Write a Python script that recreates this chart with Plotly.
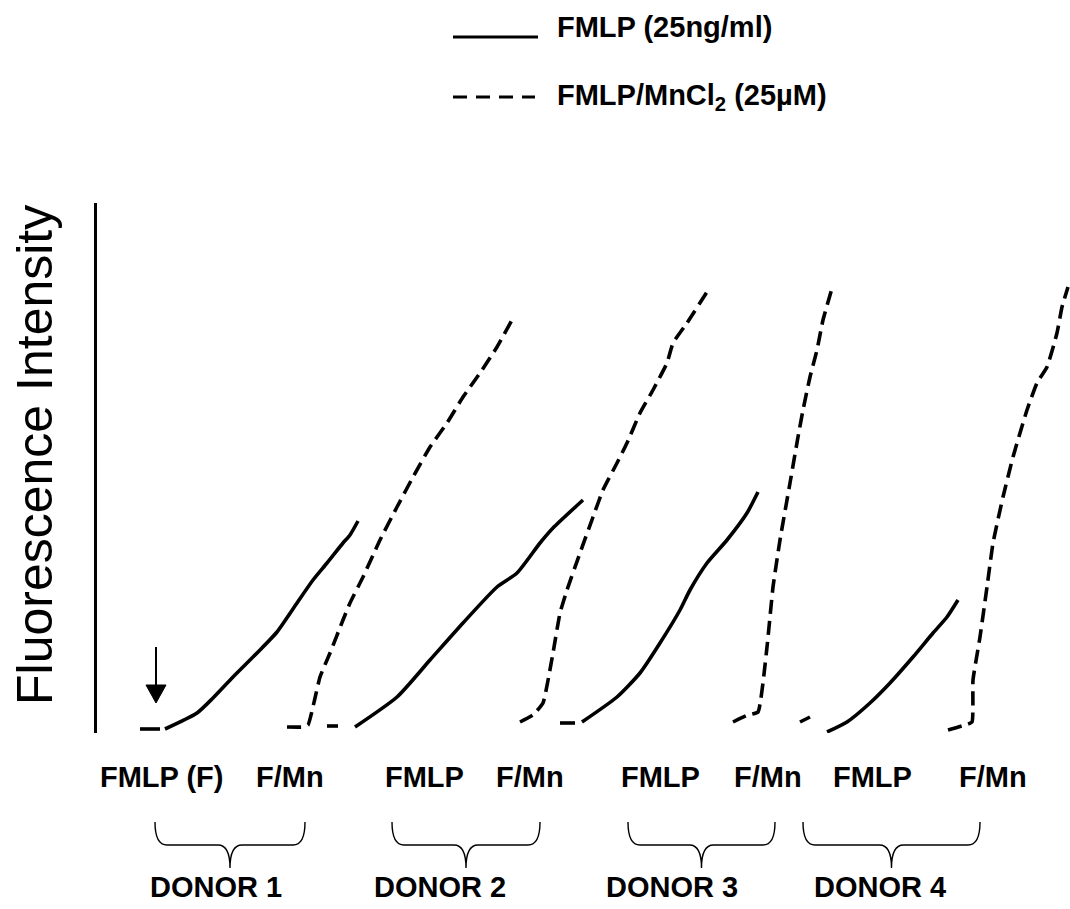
import plotly.graph_objects as go

# Time axis (s) and fluorescence (a.u.) readings for each trace.
# FMLP traces: a short pre-stimulus baseline, then the response after addition.
d1_fmlp_base_t = [43, 63]
d1_fmlp_base_f = [4, 4]
d1_fmlp_t = [68, 100, 116, 136, 160, 180, 200, 216, 230, 246, 253, 261]
d1_fmlp_f = [4, 20, 35, 56, 80, 101, 130, 153, 170, 190, 198, 212]

d1_mn_t = [190, 206, 211, 223, 233, 246, 253, 266, 283, 300, 316, 333, 350, 366, 383, 400, 415]
d1_mn_f = [6, 6, 8, 56, 80, 113, 130, 156, 193, 226, 256, 286, 310, 336, 360, 386, 413]

d2_fmlp_base_t = [230, 241]
d2_fmlp_base_f = [7, 7]
d2_fmlp_t = [258, 300, 333, 366, 400, 420, 443, 456, 486]
d2_fmlp_f = [6, 36, 73, 110, 146, 160, 190, 205, 233]

d2_mn_t = [423, 436, 446, 456, 463, 470, 483, 496, 506, 520, 530, 543, 556, 570, 576, 590, 610]
d2_mn_f = [11, 18, 30, 80, 120, 143, 180, 216, 243, 270, 290, 320, 343, 370, 390, 410, 441]

d3_fmlp_base_t = [463, 478]
d3_fmlp_base_f = [10, 10]
d3_fmlp_t = [485, 520, 543, 563, 583, 593, 610, 630, 650, 661]
d3_fmlp_f = [11, 36, 60, 90, 123, 143, 170, 193, 220, 241]

d3_mn_t = [636, 651, 661, 670, 676, 683, 693, 701, 706, 713, 720, 726, 736]
d3_mn_f = [11, 18, 21, 86, 146, 193, 250, 296, 323, 356, 383, 413, 448]

d4_fmlp_base_t = [703, 713]
d4_fmlp_base_f = [11, 16]
d4_fmlp_t = [730, 750, 773, 793, 816, 836, 850, 861]
d4_fmlp_f = [1, 11, 30, 50, 76, 100, 116, 133]

d4_mn_t = [851, 868, 875, 876, 883, 890, 896, 906, 916, 930, 940, 950, 960, 965, 971]
d4_mn_f = [3, 8, 11, 53, 96, 146, 190, 236, 276, 323, 350, 366, 400, 426, 446]

# Category labels under the traces and donor groupings
cond_labels = ["FMLP (F)", "F/Mn", "FMLP", "F/Mn", "FMLP", "F/Mn", "FMLP", "F/Mn"]
cond_pos = [65, 193, 327, 433, 563, 671, 775, 896]
donor_labels = ["DONOR 1", "DONOR 2", "DONOR 3", "DONOR 4"]
donor_pos = [119, 343, 575, 783]
brace_spans = [(58, 208), (295, 443), (531, 678), (706, 883)]

legend_solid = "FMLP (25ng/ml)"
legend_dash = "FMLP/MnCl<sub>2</sub> (25µM)"
y_title = "Fluorescence Intensity"

# Arrow marking stimulus addition (time, fluorescence)
arrow_t = 59
arrow_tail_f = 86
arrow_tip_f = 30

T_MAX = 973
F_MAX = 530
FONT = "Liberation Sans, Arial, sans-serif"
LW = 3.6
DASH = "14px,7px"
LABEL_SIZE = 29


def px(t):
    """Time value -> paper x (so decorations outside the axes are not clipped)."""
    return t / T_MAX


def py(f):
    """Fluorescence value -> paper y."""
    return f / F_MAX


fig = go.Figure()

solid_traces = [
    (d1_fmlp_base_t + [None] + d1_fmlp_t, d1_fmlp_base_f + [None] + d1_fmlp_f),
    (d2_fmlp_base_t + [None] + d2_fmlp_t, d2_fmlp_base_f + [None] + d2_fmlp_f),
    (d3_fmlp_base_t + [None] + d3_fmlp_t, d3_fmlp_base_f + [None] + d3_fmlp_f),
    (d4_fmlp_base_t + [None] + d4_fmlp_t, d4_fmlp_base_f + [None] + d4_fmlp_f),
]
dash_traces = [(d1_mn_t, d1_mn_f), (d2_mn_t, d2_mn_f), (d3_mn_t, d3_mn_f), (d4_mn_t, d4_mn_f)]

for t, f in solid_traces:
    fig.add_trace(go.Scatter(x=t, y=f, mode="lines", connectgaps=False,
                             line=dict(color="black", width=LW, shape="spline", smoothing=0.6),
                             showlegend=False, cliponaxis=False, hoverinfo="skip"))
for t, f in dash_traces:
    fig.add_trace(go.Scatter(x=t, y=f, mode="lines",
                             line=dict(color="black", width=LW, dash=DASH, shape="spline", smoothing=0.4),
                             showlegend=False, cliponaxis=False, hoverinfo="skip"))

shapes = []
annotations = []

# Legend samples
shapes.append(dict(type="line", xref="paper", yref="paper", x0=px(356), x1=px(441),
                   y0=py(696), y1=py(696), line=dict(color="black", width=3)))
shapes.append(dict(type="line", xref="paper", yref="paper", x0=px(356), x1=px(438),
                   y0=py(636), y1=py(636), line=dict(color="black", width=3, dash="14px,9px")))
annotations.append(dict(x=px(458), y=py(706), xref="paper", yref="paper",
                        text="<b>%s</b>" % legend_solid,
                        showarrow=False, xanchor="left", yanchor="middle",
                        font=dict(family=FONT, size=LABEL_SIZE, color="black")))
annotations.append(dict(x=px(458), y=py(636), xref="paper", yref="paper",
                        text="<b>%s</b>" % legend_dash,
                        showarrow=False, xanchor="left", yanchor="middle",
                        font=dict(family=FONT, size=LABEL_SIZE, color="black")))

# Stimulus arrow
shapes.append(dict(type="line", xref="paper", yref="paper", x0=px(arrow_t), x1=px(arrow_t),
                   y0=py(arrow_tail_f), y1=py(arrow_tip_f + 16), line=dict(color="black", width=2)))
shapes.append(dict(type="path", xref="paper", yref="paper",
                   path="M %g,%g L %g,%g L %g,%g Z" % (px(arrow_t - 10), py(arrow_tip_f + 18),
                                                       px(arrow_t + 10), py(arrow_tip_f + 18),
                                                       px(arrow_t), py(arrow_tip_f)),
                   fillcolor="black", line=dict(color="black", width=1)))

# Condition labels
for lab, x in zip(cond_labels, cond_pos):
    annotations.append(dict(x=px(x), y=py(-44), xref="paper", yref="paper",
                            text="<b>%s</b>" % lab,
                            showarrow=False, xanchor="center", yanchor="middle",
                            font=dict(family=FONT, size=LABEL_SIZE, color="black")))

# Donor braces
y_top, y_mid, y_bot = -89, -112, -135
for x0, x1 in brace_spans:
    xc = (x0 + x1) / 2
    r = 12
    pts = [(x0, y_top), (x0, y_mid), (x0 + r, y_mid), (xc - r, y_mid), (xc, y_mid), (xc, y_bot),
           (x1, y_top), (x1, y_mid), (x1 - r, y_mid), (xc + r, y_mid), (xc, y_mid), (xc, y_bot)]
    q = [(px(a), py(b)) for a, b in pts]
    p = ("M {0[0]},{0[1]} Q {1[0]},{1[1]} {2[0]},{2[1]} L {3[0]},{3[1]} Q {4[0]},{4[1]} {5[0]},{5[1]} "
         "M {6[0]},{6[1]} Q {7[0]},{7[1]} {8[0]},{8[1]} L {9[0]},{9[1]} Q {10[0]},{10[1]} {11[0]},{11[1]}"
         ).format(*q)
    shapes.append(dict(type="path", xref="paper", yref="paper", path=p,
                       line=dict(color="black", width=1.4)))

for lab, x in zip(donor_labels, donor_pos):
    annotations.append(dict(x=px(x), y=py(-154), xref="paper", yref="paper",
                            text="<b>%s</b>" % lab,
                            showarrow=False, xanchor="center", yanchor="middle",
                            font=dict(family=FONT, size=LABEL_SIZE, color="black")))

# Y-axis title
annotations.append(dict(x=px(-62), y=py(278), xref="paper", yref="paper", text=y_title,
                        textangle=-90, showarrow=False, xanchor="center", yanchor="middle",
                        font=dict(family=FONT, size=50, color="black")))

fig.update_layout(
    width=1070, height=909,
    margin=dict(l=97, r=0, t=203, b=176),
    paper_bgcolor="white", plot_bgcolor="white",
    shapes=shapes, annotations=annotations,
    xaxis=dict(range=[0, T_MAX], showgrid=False, zeroline=False, showticklabels=False,
               ticks="", showline=False, fixedrange=True),
    yaxis=dict(range=[0, F_MAX], showgrid=False, zeroline=False, showticklabels=False,
               ticks="", showline=True, linecolor="black", linewidth=3, mirror=False,
               fixedrange=True),
)

fig.write_html("out.html")
